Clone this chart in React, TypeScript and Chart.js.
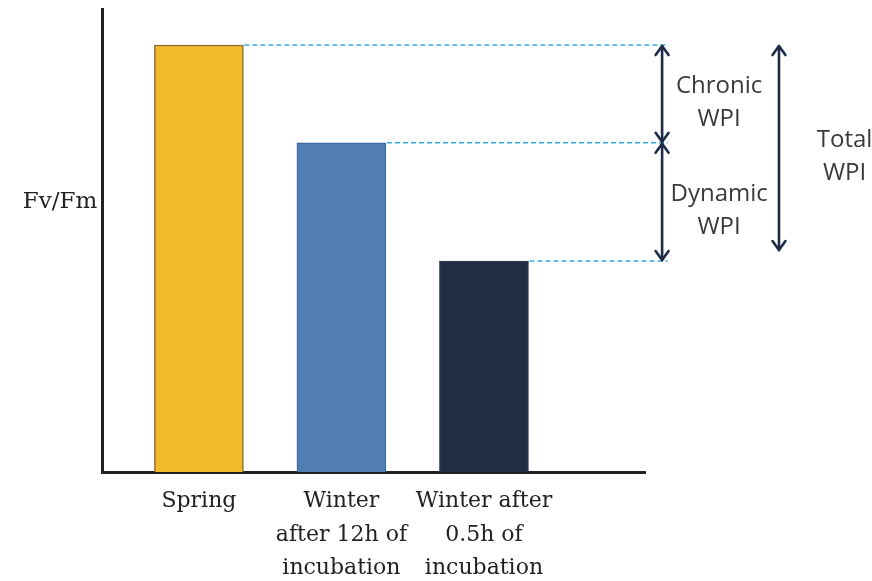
import React, { useEffect, useRef } from "react";
import { Chart, registerables } from "chart.js";
Chart.register(...registerables);

// ---- data ----
const categories: (string | string[])[] = [
  "Spring",
  ["Winter", "after 12h of", "incubation"],
  ["Winter after", "0.5h of", "incubation"],
];
const positions = [0, 1, 2];
const fvfm = [0.83, 0.64, 0.41];
const barColors = ["#F3BA2B", "#4F7DB4", "#222D45"];
const borderColors = ["#8A6A30", "#3F6A9C", "#2C3852"];
const yLabel = "Fv/Fm";
const chronicText = ["Chronic", "WPI"];
const dynamicText = ["Dynamic", "WPI"];
const totalText = ["Total", "WPI"];
// x-positions (in x-axis units) of annotation elements
const dashEndX = 3.29;
const arrowX = 3.25;
const annotTextX = 3.65;
const totalArrowX = 4.07;
const totalTextX = 4.53;

function drawArrow(ctx: CanvasRenderingContext2D, x: number, y1: number, y2: number) {
  const h = 10, w = 6.5;
  ctx.beginPath();
  ctx.moveTo(x, y1 + 1);
  ctx.lineTo(x, y2 - 1);
  ctx.stroke();
  ctx.beginPath();
  ctx.moveTo(x - w, y1 + h);
  ctx.lineTo(x, y1 + 1);
  ctx.lineTo(x + w, y1 + h);
  ctx.stroke();
  ctx.beginPath();
  ctx.moveTo(x - w, y2 - h);
  ctx.lineTo(x, y2 - 1);
  ctx.lineTo(x + w, y2 - h);
  ctx.stroke();
}

const annotPlugin = {
  id: "annot",
  afterDatasetsDraw(chart: any) {
    const { ctx, scales, chartArea } = chart;
    const x = scales.x, y = scales.y;
    const meta = chart.getDatasetMeta(0);
    const bars = meta.data;
    ctx.save();
    // dashed guide lines
    ctx.strokeStyle = "#3AAEE2";
    ctx.lineWidth = 1.5;
    ctx.setLineDash([5, 3]);
    const dashEnd = x.getPixelForValue(dashEndX);
    bars.forEach((b: any) => {
      const right = b.x + b.width / 2;
      ctx.beginPath();
      ctx.moveTo(right + 1, b.y);
      ctx.lineTo(dashEnd, b.y);
      ctx.stroke();
    });
    ctx.setLineDash([]);
    // arrows
    const y0 = y.getPixelForValue(fvfm[0]);
    const y1 = y.getPixelForValue(fvfm[1]);
    const y2 = y.getPixelForValue(fvfm[2]);
    ctx.strokeStyle = "#1E2B47";
    ctx.lineWidth = 2.6;
    ctx.lineCap = "round";
    ctx.lineJoin = "round";
    const ax = x.getPixelForValue(arrowX);
    drawArrow(ctx, ax, y0, y1);
    drawArrow(ctx, ax, y1, y2);
    const tx = x.getPixelForValue(totalArrowX);
    drawArrow(ctx, tx, y0, y2 - 10);
    // texts
    ctx.fillStyle = "#3A3A3A";
    ctx.font = '24px "Open Sans"';
    ctx.textAlign = "center";
    ctx.textBaseline = "middle";
    const block = (lines: string[], cx: number, mid: number) => {
      ctx.fillText(lines[0], cx, mid - 8);
      ctx.fillText(lines[1], cx, mid + 25);
    };
    block(chronicText, x.getPixelForValue(annotTextX), (y0 + y1) / 2);
    block(dynamicText, x.getPixelForValue(annotTextX), (y1 + y2) / 2);
    block(totalText, x.getPixelForValue(totalTextX), (y0 + y2 - 10) / 2);
    // y label
    ctx.fillStyle = "#222";
    ctx.font = '23px "DejaVu Serif"';
    ctx.fillText(yLabel, chartArea.left - 42, chartArea.top + 193);
    ctx.restore();
  },
};

export default function App() {
  const ref = useRef<HTMLCanvasElement | null>(null);
  useEffect(() => {
    document.body.style.margin = "0";
    const chart = new Chart(ref.current as HTMLCanvasElement, {
      type: "bar",
      data: {
        datasets: [
          {
            data: positions.map((p, i) => ({ x: p, y: fvfm[i] })),
            backgroundColor: barColors,
            borderColor: borderColors,
            borderWidth: 1.5,
            barThickness: 89,
          },
        ],
      },
      options: {
        animation: false,
        responsive: false,
        layout: { padding: { top: 9, right: 227, left: 0, bottom: 0 } },
        plugins: { legend: { display: false }, tooltip: { enabled: false } },
        scales: {
          x: {
            type: "linear",
            offset: false,
            min: -0.68,
            max: 3.13,
            grid: { display: false, drawTicks: false, offset: false },
            border: { display: true, color: "#222", width: 3 },
            afterBuildTicks: (s: any) => {
              s.ticks = positions.map((v) => ({ value: v }));
            },
            afterFit: (s: any) => {
              s.height = 109;
            },
            ticks: {
              autoSkip: false,
              maxRotation: 0,
              padding: 13,
              color: "#222",
              font: { family: "DejaVu Serif", size: 22, lineHeight: 1.52 },
              callback: (_v: any, i: number) => categories[i],
            },
          },
          y: {
            min: 0,
            max: 0.9,
            grid: { display: false, drawTicks: false },
            border: { display: true, color: "#222", width: 3 },
            ticks: { display: false },
            afterFit: (s: any) => {
              s.width = 102;
            },
          },
        },
      },
      plugins: [annotPlugin],
    } as any);
    return () => chart.destroy();
  }, []);
  return (
    <div style={{ width: 872, height: 581 }}>
      <canvas ref={ref} width={872} height={581} style={{ width: 872, height: 581 }} />
    </div>
  );
}
